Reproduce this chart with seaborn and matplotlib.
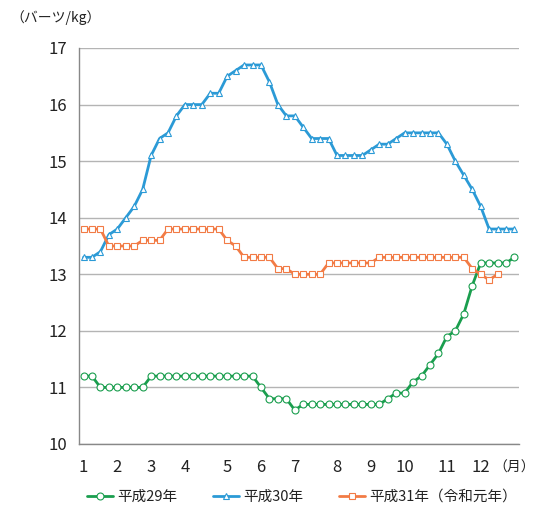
import numpy as np
import pandas as pd
import matplotlib
matplotlib.use("Agg")
import matplotlib.pyplot as plt
import seaborn as sns

# weekly prices (baht/kg), 52 weeks
h29 = [11.2, 11.2, 11.0, 11.0, 11.0, 11.0, 11.0, 11.0, 11.2, 11.2, 11.2, 11.2, 11.2,
       11.2, 11.2, 11.2, 11.2, 11.2, 11.2, 11.2, 11.2, 11.0, 10.8, 10.8, 10.8, 10.6,
       10.7, 10.7, 10.7, 10.7, 10.7, 10.7, 10.7, 10.7, 10.7, 10.7, 10.8, 10.9, 10.9,
       11.1, 11.2, 11.4, 11.6, 11.9, 12.0, 12.3, 12.8, 13.2, 13.2, 13.2, 13.2, 13.3]
h30 = [13.3, 13.3, 13.4, 13.7, 13.8, 14.0, 14.2, 14.5, 15.1, 15.4, 15.5, 15.8, 16.0,
       16.0, 16.0, 16.2, 16.2, 16.5, 16.6, 16.7, 16.7, 16.7, 16.4, 16.0, 15.8, 15.8,
       15.6, 15.4, 15.4, 15.4, 15.1, 15.1, 15.1, 15.1, 15.2, 15.3, 15.3, 15.4, 15.5,
       15.5, 15.5, 15.5, 15.5, 15.3, 15.0, 14.75, 14.5, 14.2, 13.8, 13.8, 13.8, 13.8]
h31 = [13.8, 13.8, 13.8, 13.5, 13.5, 13.5, 13.5, 13.6, 13.6, 13.6, 13.8, 13.8, 13.8,
       13.8, 13.8, 13.8, 13.8, 13.6, 13.5, 13.3, 13.3, 13.3, 13.3, 13.1, 13.1, 13.0,
       13.0, 13.0, 13.0, 13.2, 13.2, 13.2, 13.2, 13.2, 13.2, 13.3, 13.3, 13.3, 13.3,
       13.3, 13.3, 13.3, 13.3, 13.3, 13.3, 13.3, 13.1, 13.0, 12.9, 13.0]
month_start = [0, 4, 8, 12, 17, 21, 25, 30, 34, 38, 43, 47]
month_labels = ["1", "2", "3", "4", "5", "6", "7", "8", "9", "10", "11", "12"]

sns.set_style("white")
plt.rcParams['font.family'] = ['Noto Sans CJK JP', 'DejaVu Sans']

fig = plt.figure(figsize=(5.37, 5.07), dpi=100)
ax = fig.add_axes([79.3 / 537, 1 - 444 / 507, (518.7 - 79.3) / 537, (444 - 48) / 507])

series = [
    (h29, "平成29年", "#1a9e4e", "o"),
    (h30, "平成30年", "#2b9ad6", "^"),
    (h31, "平成31年（令和元年）", "#f27b45", "s"),
]
for vals, name, col, mk in series:
    sns.lineplot(x=np.arange(len(vals)), y=vals, ax=ax, color=col, linewidth=2,
                 marker=mk, markersize=5, markerfacecolor="white",
                 markeredgecolor=col, markeredgewidth=0.8, label=name)

ax.set_ylim(10, 17)
ax.set_xlim(-0.5, 51.5)
ax.set_yticks(range(10, 18))
ax.yaxis.grid(True, color="#b4b4b4", linewidth=1)
ax.set_axisbelow(True)
ax.tick_params(axis="y", length=5, color="#b4b4b4", labelsize=12, labelcolor="#222222", pad=4)
ax.set_xticks(month_start)
ax.set_xticklabels(month_labels)
ax.set_xticks(np.arange(-0.5, 52, 1), minor=True)
ax.tick_params(axis="x", which="major", length=0, labelsize=12, labelcolor="#222222", pad=11)
ax.tick_params(axis="x", which="minor", length=4, color="#888888", width=0.8, direction="out")
for s in ["top", "right"]:
    ax.spines[s].set_visible(False)
for s in ["left", "bottom"]:
    ax.spines[s].set_color("#888888")
    ax.spines[s].set_linewidth(1)

fig.text(10 / 537, 1 - 18 / 507, "（バーツ/kg）", fontsize=10, va="center", ha="left", color="#222222")
fig.text(535 / 537, 1 - 468 / 507, "（月）", fontsize=10, va="center", ha="right", color="#222222")

leg = ax.legend(loc="center left", bbox_to_anchor=(87 / 537, 1 - 497 / 507), bbox_transform=fig.transFigure,
                ncol=3, frameon=False, fontsize=10.5, handlelength=1.8, columnspacing=2.4,
                handletextpad=0.3, borderaxespad=0, borderpad=0)
for t in leg.get_texts():
    t.set_color("#222222")

fig.savefig("out.png", dpi=100)
